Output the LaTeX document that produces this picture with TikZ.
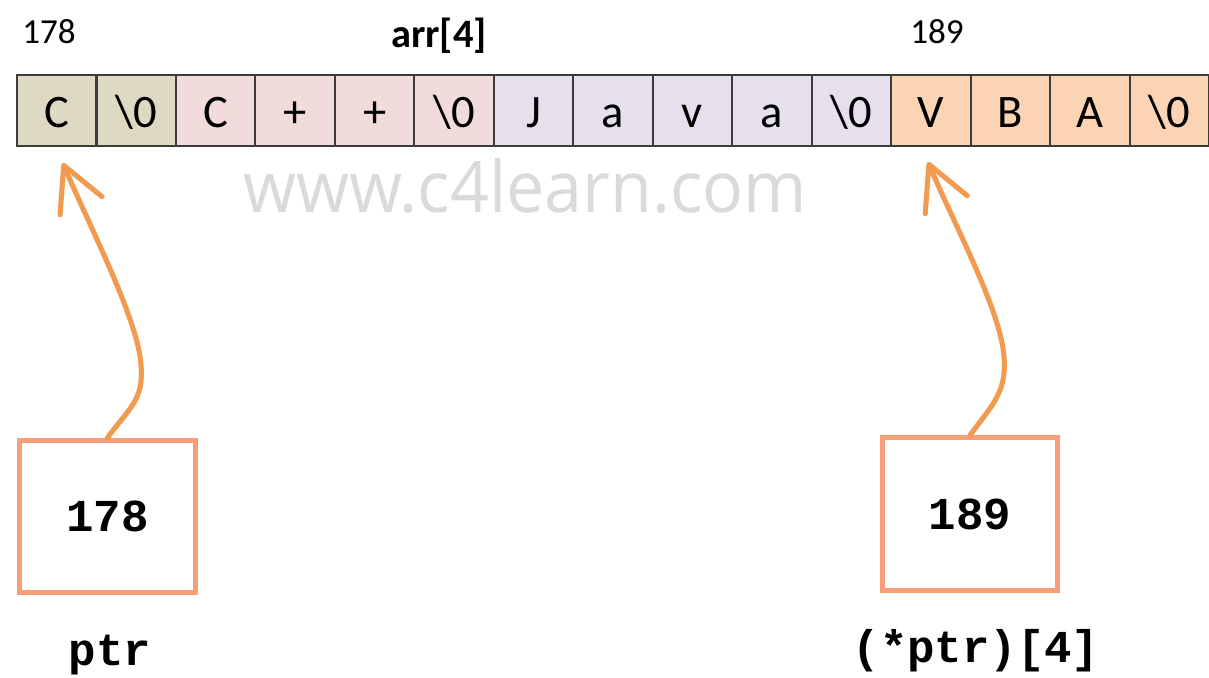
\documentclass[tikz,border=0pt]{standalone}
\usepackage{fontspec}
\setmainfont{Carlito}
\newfontfamily\codefont{Liberation Mono}
\newfontfamily\markfont{Open Sans}
\usetikzlibrary{arrows.meta}

\definecolor{cellline}{RGB}{60,60,60}
\definecolor{fillA}{RGB}{221,217,195}
\definecolor{fillB}{RGB}{242,220,219}
\definecolor{fillC}{RGB}{229,224,236}
\definecolor{fillD}{RGB}{251,212,180}
\definecolor{boxline}{RGB}{245,158,120}
\definecolor{arrowline}{RGB}{240,155,80}
\definecolor{marktext}{RGB}{218,218,218}

\begin{document}
\begin{tikzpicture}[x=0.02cm,y=-0.02cm,
  cell/.style={draw=cellline,line width=1.2pt,minimum width=1.5894cm,
    minimum height=1.42cm,inner sep=0pt,outer sep=0pt,
    text height=18.8pt,text depth=0pt,font=\fontsize{26.5}{30}\selectfont},
  ptrbox/.style={draw=boxline,line width=2.9pt,fill=white,minimum width=3.51cm,
    minimum height=3.05cm,inner sep=0pt,
    font=\codefont\bfseries\fontsize{26}{30}\selectfont},
  addr/.style={anchor=base west,inner sep=0pt,font=\fontsize{20}{24}\selectfont},
  codelabel/.style={anchor=base,inner sep=0pt,font=\codefont\bfseries\fontsize{26}{30}\selectfont},
  ptrarrow/.style={draw=arrowline,line width=2.9pt,line cap=round,
    -{Straight Barb[length=25pt,width=26pt,round]}}
]
\useasboundingbox (0,0) rectangle (1209,677);

% the character array
\foreach \t/\f [count=\i] in {C/fillA,{\textbackslash 0}/fillA,C/fillB,+/fillB,+/fillB,
    {\textbackslash 0}/fillB,J/fillC,a/fillC,v/fillC,a/fillC,{\textbackslash 0}/fillC,
    V/fillD,B/fillD,A/fillD,{\textbackslash 0}/fillD}
  \node[cell,fill=\f] (c\i) at ({17+(\i-0.5)*79.47},110.5) {\t};

% labels above the array
\node[addr] (a178) at (22,43) {178};
\node[anchor=base,inner sep=0pt,font=\bfseries\fontsize{23}{27}\selectfont] (arrname) at (439,47) {arr[4]};
\node[addr] (a189) at (910,43) {189};

% watermark
\node[anchor=base west,inner sep=0pt,text=marktext] (mark) at (243,212)
  {\resizebox{11.28cm}{1.08cm}{\markfont www.c4learn.com}};

% pointer boxes
\node[ptrbox] (p) at (107.5,516.5) {178};
\node[ptrbox] (q) at (970,514) {189};
\node[codelabel] (pname) at (110,665) {ptr};
\node[codelabel] (qname) at (976,662) {(*ptr)[4]};

% arrow targets and bends
\coordinate (lt) at ([xshift=0.12cm,yshift=-0.34cm]c1.south);
\coordinate (rt) at ([xshift=-0.06cm,yshift=-0.32cm]c12.south);
\coordinate (lm) at (141,365);
\coordinate (rm) at (1004,357);

\draw[ptrarrow] (p.north) .. controls +(22,-30) and +(3,35) .. (lm)
  .. controls +(-3,-45) and +(30,70) .. (lt);
\draw[ptrarrow] (q.north) .. controls +(22,-30) and +(3,35) .. (rm)
  .. controls +(-3,-45) and +(30,70) .. (rt);
\end{tikzpicture}
\end{document}
